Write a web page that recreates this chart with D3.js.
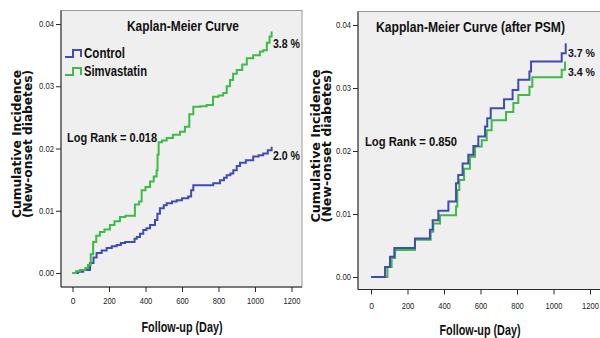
<!DOCTYPE html>
<html><head><meta charset="utf-8">
<script src="https://cdn.jsdelivr.net/npm/d3@7"></script>
<style>
html,body{margin:0;padding:0;background:#fff;}
svg{display:block;}
.nar{font-family:"Liberation Sans Narrow","Arial Narrow","Liberation Sans",Arial,sans-serif;}
.wide{font-family:"DejaVu Sans",Verdana,sans-serif;font-weight:bold;}
</style></head>
<body>
<svg id="c" width="600" height="338"></svg>
<script>
// ---------- data ----------
const xTicks = [0, 200, 400, 600, 800, 1000, 1200];
const yTicks = [0.00, 0.01, 0.02, 0.03, 0.04];
const seriesNames = ["Control", "Simvastatin"];

// Left panel: Kaplan-Meier curve (day, cumulative incidence)
const leftControl = [[0,0],[30,0.0002],[59,0.0005],[96,0.0016],[115,0.0025],[132,0.0032],[160,0.0036],[187,0.004],[215,0.0043],[242,0.0045],[265,0.0048],[288,0.005],[315,0.005],[340,0.0055],[352,0.0058],[370,0.0063],[388,0.0069],[405,0.0072],[425,0.0077],[452,0.0085],[465,0.0095],[479,0.0104],[500,0.0109],[516,0.0112],[545,0.0115],[571,0.0117],[600,0.012],[634,0.0123],[650,0.0133],[662,0.0141],[700,0.0141],[753,0.0141],[771,0.0144],[808,0.0149],[830,0.0153],[845,0.0157],[865,0.016],[881,0.0165],[900,0.0172],[918,0.0177],[950,0.0181],[990,0.0187],[1020,0.0189],[1045,0.0192],[1070,0.0197],[1091,0.0203]];
const leftSimva = [[0,0],[20,0.0003],[41,0.0005],[70,0.0008],[85,0.0013],[100,0.003],[113,0.005],[130,0.006],[150,0.0066],[175,0.007],[205,0.0077],[230,0.0083],[260,0.009],[290,0.0092],[315,0.0092],[342,0.011],[365,0.0115],[379,0.0133],[400,0.0138],[425,0.0147],[445,0.0155],[461,0.0165],[466,0.019],[472,0.021],[490,0.0213],[516,0.0217],[550,0.0222],[589,0.0227],[616,0.0235],[640,0.0255],[662,0.0267],[700,0.0268],[735,0.027],[770,0.0283],[800,0.0285],[826,0.0289],[845,0.03],[863,0.031],[880,0.032],[900,0.0326],[930,0.0335],[955,0.0345],[990,0.035],[1027,0.0356],[1045,0.0358],[1065,0.037],[1080,0.038],[1091,0.0388]];

// Right panel: after PSM
const rightControl = [[0,0],[77,0.0016],[104,0.0032],[128,0.0046],[241,0.0061],[323,0.0075],[338,0.009],[369,0.0105],[424,0.012],[466,0.0149],[478,0.0162],[502,0.018],[533,0.0194],[561,0.0208],[588,0.0223],[625,0.0239],[637,0.0252],[656,0.0268],[729,0.0282],[776,0.0297],[807,0.0313],[868,0.0326],[877,0.0342],[1045,0.0355],[1067,0.0371]];
const rightSimva = [[0,0],[90,0.0016],[113,0.003],[132,0.0043],[241,0.0059],[327,0.0072],[341,0.0085],[378,0.0098],[466,0.0112],[473,0.0138],[484,0.0154],[510,0.0172],[542,0.0191],[570,0.0207],[607,0.0217],[634,0.0233],[661,0.0249],[740,0.0262],[780,0.0276],[807,0.0289],[868,0.0302],[884,0.0317],[1045,0.0329],[1063,0.0342]];

const endLabelsLeft = ["2.0 %", "3.8 %"];
const endLabelsRight = ["3.7 %", "3.4 %"];

const colors = {Control: "#3f4db3", Simvastatin: "#3dbb47"};

// ---------- drawing ----------
const svg = d3.select("#c");

function panel(cfg) {
  const g = svg.append("g");
  const x = d3.scaleLinear().domain([0, 1200]).range(cfg.xr);
  const y = d3.scaleLinear().domain([0, 0.04]).range(cfg.yr);
  const f = cfg.frame; // [x0,y0,x1,y1]
  g.append("rect").attr("x", f[0]).attr("y", f[1]).attr("width", f[2]-f[0]).attr("height", f[3]-f[1])
    .attr("fill", "#efefef").attr("stroke", "#9a9a9a").attr("stroke-width", 1);
  g.append("line").attr("x1", f[0]).attr("x2", f[0]).attr("y1", f[1]).attr("y2", f[3]).attr("stroke", "#2a2a2a");
  g.append("line").attr("x1", f[0]).attr("x2", f[2]).attr("y1", f[3]).attr("y2", f[3]).attr("stroke", "#2a2a2a");

  const ya = g.append("g").attr("transform", `translate(${f[0]},0)`)
    .call(d3.axisLeft(y).tickValues(yTicks).tickFormat(d3.format(".2f")).tickSize(5).tickPadding(2));
  ya.select(".domain").remove();
  ya.selectAll("text").attr("class", "nar").style("font-size", "8.5px").attr("fill", "#222")
    .attr("textLength", 15).attr("lengthAdjust", "spacingAndGlyphs");
  ya.selectAll("line").attr("stroke", "#2a2a2a");

  const xa = g.append("g").attr("transform", `translate(0,${f[3]})`)
    .call(d3.axisBottom(x).tickValues(xTicks).tickFormat(d3.format("d")).tickSize(5).tickPadding(cfg.xpad));
  xa.select(".domain").remove();
  xa.selectAll("text").attr("class", "nar").style("font-size", "8.5px").attr("fill", "#222")
    .each(function(d) {
      const n = String(d).length;
      if (n > 1) d3.select(this).attr("textLength", n * 4.2).attr("lengthAdjust", "spacingAndGlyphs");
    });
  xa.selectAll("line").attr("stroke", "#2a2a2a");

  const line = d3.line().x(d => x(d[0])).y(d => y(d[1])).curve(d3.curveStepAfter);
  cfg.series.forEach(s => {
    g.append("path").attr("d", line(s.data)).attr("fill", "none")
      .attr("stroke", colors[s.name]).attr("stroke-width", 2);
  });

  // title
  g.append("text").attr("class", "nar").attr("x", cfg.title.x).attr("y", cfg.title.y)
    .attr("textLength", cfg.title.w).attr("lengthAdjust", "spacingAndGlyphs")
    .style("font-size", "14px").style("font-weight", "bold").attr("fill", "#111").text(cfg.title.t);
  // log rank
  g.append("text").attr("class", "nar").attr("x", cfg.lr.x).attr("y", cfg.lr.y)
    .attr("textLength", cfg.lr.w).attr("lengthAdjust", "spacingAndGlyphs")
    .style("font-size", "13.5px").style("font-weight", "bold").attr("fill", "#111").text(cfg.lr.t);
  // end labels
  cfg.ends.forEach(e => {
    g.append("text").attr("class", "nar").attr("x", e.x).attr("y", e.y)
      .attr("textLength", e.w).attr("lengthAdjust", "spacingAndGlyphs")
      .style("font-size", (e.fs || 13.5) + "px").style("font-weight", "bold").attr("fill", "#111").text(e.t);
  });
  // x title
  g.append("text").attr("class", "nar").attr("x", cfg.xt.x).attr("y", cfg.xt.y)
    .attr("text-anchor", "middle").attr("textLength", 81).attr("lengthAdjust", "spacingAndGlyphs")
    .style("font-size", "14px").style("font-weight", "bold").attr("fill", "#111").text("Follow-up (Day)");
  // y title
  const yt = g.append("text").attr("class", "wide").attr("transform", `translate(${cfg.yt.x},${cfg.yt.y}) rotate(-90)`)
    .attr("text-anchor", "middle").style("font-size", "12px").attr("fill", "#111");
  yt.append("tspan").attr("x", 0).attr("y", 0).attr("textLength", cfg.yt.w).attr("lengthAdjust", "spacingAndGlyphs").text("Cumulative Incidence");
  yt.append("tspan").attr("x", 0).attr("y", 10.5).attr("textLength", cfg.yt.w).attr("lengthAdjust", "spacingAndGlyphs").text("(New-onset diabetes)");
  return {g, x, y};
}

const L = panel({
  xr: [72.5, 291.5], yr: [273, 24], frame: [61, 10.5, 302, 287], xpad: 6,
  series: [{name: "Control", data: leftControl}, {name: "Simvastatin", data: leftSimva}],
  title: {t: "Kaplan-Meier Curve", x: 127, y: 31, w: 112},
  lr: {t: "Log Rank = 0.018", x: 67, y: 142, w: 90},
  ends: [{t: endLabelsLeft[0], x: 273, y: 160, w: 27}, {t: endLabelsLeft[1], x: 273, y: 48, w: 27}],
  xt: {x: 182, y: 332},
  yt: {x: 21, y: 144, w: 148}
});

// legend (left panel)
seriesNames.forEach((n, i) => {
  const yy = 57 + i * 18;
  L.g.append("path").attr("d", `M65,${yy} H73 V${yy-7} H81 V${yy}`)
    .attr("fill", "none").attr("stroke", colors[n]).attr("stroke-width", 2);
  L.g.append("text").attr("class", "nar").attr("x", 84).attr("y", yy + 1)
    .attr("textLength", n === "Control" ? 41 : 63).attr("lengthAdjust", "spacingAndGlyphs")
    .style("font-size", "14px").style("font-weight", "bold").attr("fill", "#111").text(n);
});

panel({
  xr: [371, 590], yr: [277, 25], frame: [358, 11.5, 640, 289.5], xpad: 8,
  series: [{name: "Simvastatin", data: rightSimva}, {name: "Control", data: rightControl}],
  title: {t: "Kapplan-Meier Curve (after PSM)", x: 376, y: 32, w: 189},
  lr: {t: "Log Rank = 0.850", x: 365, y: 146, w: 92},
  ends: [{t: endLabelsRight[0], x: 568, y: 57, w: 27, fs: 11.5}, {t: endLabelsRight[1], x: 568, y: 76, w: 27, fs: 11.5}],
  xt: {x: 480, y: 335},
  yt: {x: 320, y: 146, w: 153}
});
</script>
</body></html>
